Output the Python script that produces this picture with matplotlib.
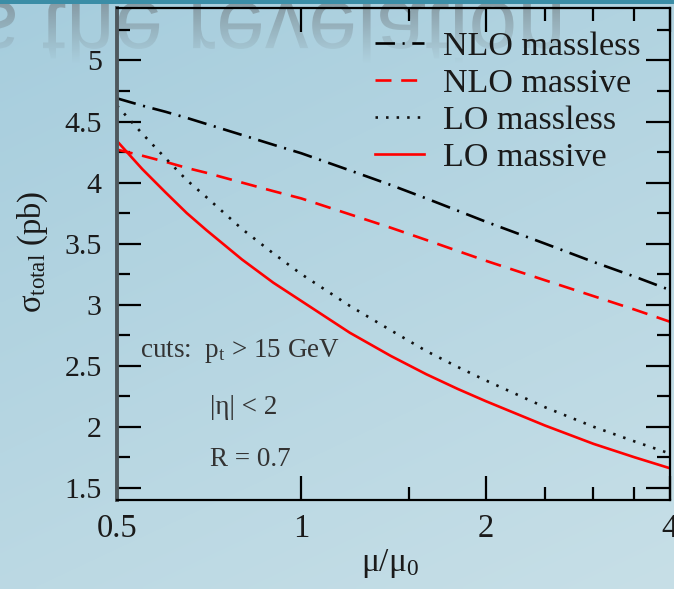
import numpy as np
import matplotlib
matplotlib.use("Agg")
import matplotlib.pyplot as plt
from matplotlib.textpath import TextPath
from matplotlib.patches import PathPatch, Rectangle
from matplotlib.font_manager import FontProperties
import matplotlib.transforms as mtransforms
from matplotlib.ticker import FixedLocator, FixedFormatter, NullFormatter

plt.rcParams['font.family'] = ['Liberation Serif', 'DejaVu Serif']
plt.rcParams['mathtext.fontset'] = 'custom'
plt.rcParams['mathtext.rm'] = 'Liberation Serif'
plt.rcParams['mathtext.it'] = 'Liberation Serif:italic'
plt.rcParams['mathtext.bf'] = 'Liberation Serif:bold'
plt.rcParams['lines.scale_dashes'] = False

# ---------------- data ----------------
mu = [0.5, 0.55, 0.6, 0.65, 0.7, 0.8, 0.9, 1.0, 1.2, 1.4, 1.6, 1.8, 2.0, 2.5, 3.0, 3.5, 4.0]
nlo_massless = [4.69, 4.63, 4.58, 4.53, 4.48, 4.39, 4.31, 4.24, 4.10, 3.98, 3.87, 3.77, 3.68, 3.50, 3.35, 3.23, 3.12]
nlo_massive = [4.27, 4.22, 4.17, 4.12, 4.08, 4.00, 3.93, 3.87, 3.74, 3.63, 3.53, 3.44, 3.36, 3.20, 3.07, 2.96, 2.86]
lo_massless = [4.63, 4.40, 4.20, 4.02, 3.88, 3.62, 3.42, 3.25, 2.99, 2.79, 2.62, 2.49, 2.38, 2.16, 2.00, 1.88, 1.78]
lo_massive = [4.34, 4.11, 3.92, 3.75, 3.61, 3.37, 3.18, 3.03, 2.77, 2.58, 2.43, 2.31, 2.21, 2.01, 1.86, 1.75, 1.66]
labels = ["NLO massless", "NLO massive", "LO massless", "LO massive"]
x_major = [0.5, 1, 2, 4]
x_major_labels = ["0.5", "1", "2", "4"]
x_minor = [1.5, 2.5, 3, 3.5]
y_major = [1.5, 2, 2.5, 3, 3.5, 4, 4.5, 5]
y_major_labels = ["1.5", "2", "2.5", "3", "3.5", "4", "4.5", "5"]
y_minor = [1.75, 2.25, 2.75, 3.25, 3.75, 4.25, 4.75, 5.25]
cuts_text = ["cuts:  p$_\\mathrm{t}$ > 15 GeV", "|η| < 2", "R = 0.7"]
reflection_words = ["s", "the revelation"]

W, H = 674, 589
fig = plt.figure(figsize=(W / 100, H / 100), dpi=100)

# ---------------- background (slide) ----------------
bg = fig.add_axes([0, 0, 1, 1], zorder=0)
bg.set_xlim(0, W)
bg.set_ylim(H, 0)
bg.axis('off')
yy, xx = np.mgrid[0:H:4, 0:W:4]
t = (0.35 * xx / W + 0.65 * yy / H)
c0 = np.array([166, 205, 221]) / 255
c1 = np.array([199, 223, 231]) / 255
img = c0[None, None, :] * (1 - t[..., None]) + c1[None, None, :] * t[..., None]
bg.imshow(img, extent=(0, W, H, 0), aspect='auto', zorder=0, interpolation='bilinear')
bg.add_patch(Rectangle((0, 0), W, 3.5, color='#3b8da6', zorder=3, lw=0))

# reflected title text (upside-down, fading)
fp = FontProperties(family='Liberation Sans')
tp_main = TextPath((0, 0), reflection_words[1], size=1, prop=fp)
tp_s = TextPath((0, 0), reflection_words[0], size=1, prop=fp)
ext = tp_main.get_extents()
S = (560 - 43) / ext.width
grad = np.zeros((100, 1, 4))
grad[..., :3] = np.array([118, 130, 136]) / 255
grad[:, 0, 3] = np.linspace(0.7, 0.0, 100) ** 1.1
for tp, x0 in [(tp_main, 43 - ext.x0 * S), (tp_s, 15 - tp_s.get_extents().x1 * S)]:
    tr = mtransforms.Affine2D().scale(S, S).translate(x0, 2) + bg.transData
    patch = PathPatch(tp, transform=tr, facecolor='none', edgecolor='none')
    bg.add_patch(patch)
    im = bg.imshow(grad, extent=(0, W, 64, 2), aspect='auto', zorder=1, interpolation='bilinear')
    im.set_clip_path(patch)

# ---------------- main plot ----------------
x0p, x1p, y0p, y1p = 117, 670, 8, 500
ax = fig.add_axes([x0p / W, 1 - y1p / H, (x1p - x0p) / W, (y1p - y0p) / H], zorder=2)
ax.set_facecolor('none')

lw = 1.9
ax.plot(mu, nlo_massless, color='black', lw=lw, linestyle=(0, (14, 5.5, 1.5, 5.5)), label=labels[0])
ax.plot(mu, nlo_massive, color='#ff0000', lw=lw, linestyle=(0, (11.5, 7)), label=labels[1])
ax.plot(mu, lo_massless, color='#111111', lw=lw, linestyle=(0, (1.8, 5.8)), label=labels[2])
ax.plot(mu, lo_massive, color='#ff0000', lw=lw, linestyle='-', label=labels[3])

ax.set_xscale('log')
ax.set_xlim(0.5, 4)
ax.set_ylim(1.40, 5.43)
ax.xaxis.set_major_locator(FixedLocator(x_major))
ax.xaxis.set_major_formatter(FixedFormatter(x_major_labels))
ax.xaxis.set_minor_locator(FixedLocator(x_minor))
ax.xaxis.set_minor_formatter(NullFormatter())
ax.yaxis.set_major_locator(FixedLocator(y_major))
ax.yaxis.set_major_formatter(FixedFormatter(y_major_labels))
ax.yaxis.set_minor_locator(FixedLocator(y_minor))

ax.tick_params(which='both', direction='in', top=True, right=True, color='black')
ax.tick_params(which='major', length=17, width=1.6)
ax.tick_params(which='minor', length=9.5, width=1.6)
ax.tick_params(axis='x', which='major', labelsize=23.5, pad=10, labelcolor='#1a1a1a')
ax.tick_params(axis='y', which='major', labelsize=21.5, pad=11, labelcolor='#1a1a1a')

for s in ['top', 'right', 'bottom']:
    ax.spines[s].set_linewidth(1.6)
    ax.spines[s].set_color('black')
ax.spines['left'].set_linewidth(2.8)
ax.spines['left'].set_color('#4e585d')

ax.set_xlabel('$\\mathrm{μ/μ_0}$', fontsize=24, color='#1a1a1a')
ax.xaxis.set_label_coords((390 - x0p) / (x1p - x0p), -(547 - y1p) / (y1p - y0p))
ax.xaxis.label.set_va('top')
ax.set_ylabel('$\\mathrm{σ_{total}}$ (pb)', fontsize=23.5, color='#1a1a1a')
ax.yaxis.set_label_coords(-(x0p - 50) / (x1p - x0p), (y1p - 252) / (y1p - y0p))

leg = ax.legend(loc='upper right', bbox_to_anchor=(641 / W, 1 - 31 / H),
                bbox_transform=fig.transFigure, frameon=False, fontsize=24.5,
                handlelength=1.45, handletextpad=0.56, labelspacing=0.18,
                borderpad=0, borderaxespad=0)
for txt in leg.get_texts():
    txt.set_color('#1a1a1a')

# cuts annotation (pixel positions on the slide)
bg.text(140, 351, cuts_text[0], fontsize=19.5, color='#333333', ha='left', va='center', zorder=5)
bg.text(210, 407, cuts_text[1], fontsize=19.5, color='#333333', ha='left', va='center', zorder=5)
bg.text(210, 459, cuts_text[2], fontsize=19.5, color='#333333', ha='left', va='center', zorder=5)

fig.savefig('out.png', dpi=100)
